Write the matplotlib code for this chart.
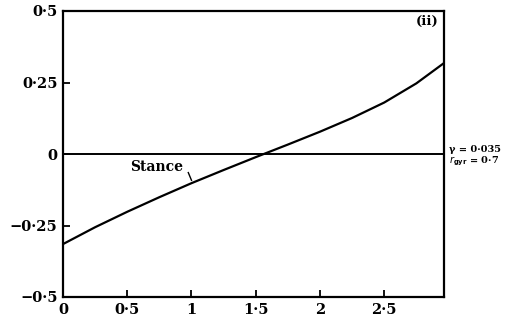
import matplotlib
matplotlib.use("Agg")
import matplotlib.pyplot as plt

# data
x_vals = [0.0, 0.25, 0.5, 0.75, 1.0, 1.25, 1.5, 1.75, 2.0, 2.25, 2.5, 2.75, 2.965]
y_vals = [-0.315, -0.256, -0.202, -0.151, -0.102, -0.056, -0.011, 0.033, 0.078, 0.126, 0.180, 0.247, 0.318]

x_ticks = [0, 0.5, 1, 1.5, 2, 2.5]
x_tick_labels = ["0", "0·5", "1", "1·5", "2", "2·5"]
y_ticks = [-0.5, -0.25, 0, 0.25, 0.5]
y_tick_labels = ["−0·5", "−0·25", "0", "0·25", "0·5"]

plt.rcParams['font.family'] = ['DejaVu Serif']

fig = plt.figure(figsize=(5.23, 3.26), dpi=100)
ax = fig.add_axes([63/523, 29/326, (444-63)/523, (297-11)/326])

ax.plot(x_vals, y_vals, color='black', lw=1.6, solid_joinstyle='round')
ax.axhline(0, color='black', lw=1.4)

ax.set_xlim(0, 2.965)
ax.set_ylim(-0.5, 0.5)
ax.set_xticks(x_ticks)
ax.set_xticklabels(x_tick_labels)
ax.set_yticks(y_ticks)
ax.set_yticklabels(y_tick_labels)
ax.tick_params(direction='in', length=5, width=1.3, labelsize=10.5, pad=4)
for lbl in ax.get_xticklabels() + ax.get_yticklabels():
    lbl.set_fontweight('bold')
for s in ax.spines.values():
    s.set_linewidth(1.6)

ax.text(0.985, 0.985, "(ii)", transform=ax.transAxes, ha='right', va='top',
        fontsize=9.5, fontweight='bold')

ax.text(0.52, -0.045, "Stance", ha='left', va='center', fontsize=10, fontweight='bold')
ax.plot([0.975, 1.0], [-0.065, -0.092], color='black', lw=1.0)

fig.text(449/523, 1 - 149/326, "γ = 0·035", ha='left', va='center', fontsize=7, fontweight='bold')
fig.text(449/523, 1 - 161/326, r"$r_{\mathbf{gyr}}$ = 0·7", ha='left', va='center', fontsize=7, fontweight='bold')

fig.savefig("out.png", dpi=100)
